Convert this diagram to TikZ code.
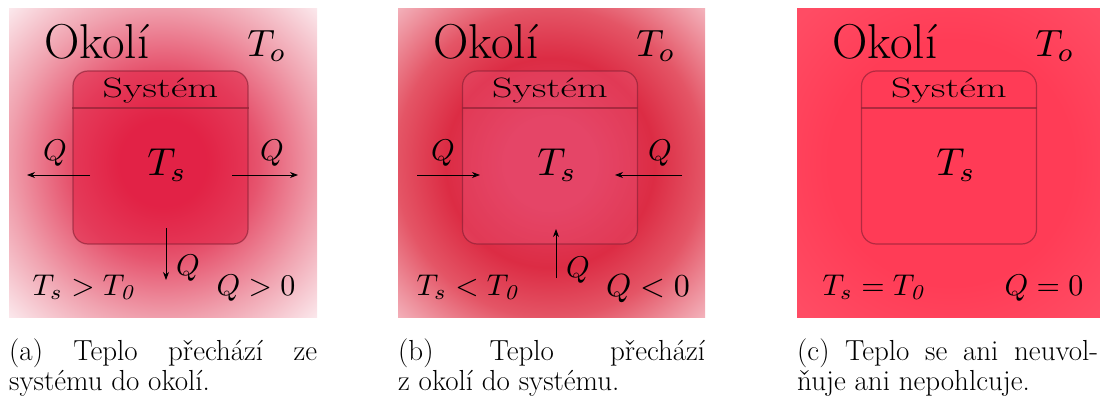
\documentclass[tikz,border=0pt]{standalone}
\usetikzlibrary{arrows.meta}
\definecolor{redA}{RGB}{224,36,70}
\definecolor{midA}{RGB}{230,84,110}
\definecolor{pinkA}{RGB}{240,162,175}
\definecolor{paleA}{RGB}{251,232,236}
\definecolor{inB}{RGB}{226,62,96}
\definecolor{ringB}{RGB}{220,44,68}
\definecolor{edgeB}{RGB}{228,85,102}
\definecolor{cornB}{RGB}{243,178,187}
\definecolor{inC}{RGB}{255,60,86}
\definecolor{outC}{RGB}{255,76,100}
\definecolor{boxline}{RGB}{130,30,50}
\definecolor{divline}{RGB}{150,35,55}
% radius 50bp corresponds to the full width (436pt) of the shaded square: 1bp = 8.72pt
\pgfdeclareradialshading{shA}{\pgfpoint{0bp}{0bp}}{color(0bp)=(redA); color(5bp)=(redA); color(11bp)=(midA); color(18bp)=(pinkA); color(25bp)=(paleA); color(50bp)=(paleA)}
\pgfdeclareradialshading{shB}{\pgfpoint{0bp}{0bp}}{color(0bp)=(inB); color(5bp)=(inB); color(12bp)=(ringB); color(17.7bp)=(edgeB); color(25bp)=(cornB); color(50bp)=(cornB)}
\pgfdeclareradialshading{shC}{\pgfpoint{0bp}{0bp}}{color(0bp)=(inC); color(14bp)=(inC); color(24bp)=(outC); color(50bp)=(outC)}
\newcommand{\mathbig}[2]{\scalebox{#1}{$#2$}}
\tikzset{
  sysbox/.style={draw=boxline, draw opacity=0.6, line width=1.2pt, rounded corners=15pt, minimum width=175pt, minimum height=173pt, inner sep=0pt},
  divider/.style={draw=divline, draw opacity=0.75, line width=2.6pt},
  flow/.style={line width=0.9pt, -{Stealth[length=8pt,width=6pt,inset=2.5pt]}},
  okoli/.style={inner sep=0pt, font=\fontsize{49}{49}\selectfont},
  bigmath/.style={inner sep=0pt},
  systxt/.style={inner sep=0pt, font=\fontsize{28}{28}\selectfont},
  qlbl/.style={inner sep=0pt},
  cond/.style={inner sep=0pt},
  capt/.style={inner sep=0pt, anchor=base west, font=\fontsize{29}{34}\selectfont}
}
\begin{document}
\begin{tikzpicture}[x=1pt,y=-1pt]
\useasboundingbox (0,0) rectangle (1100,398);
% ---------------- panel (a)
\begin{scope}
\clip (9,9) rectangle (317,317);
\shade[shading=shA] (-55,-55) rectangle (381,381);
\end{scope}
\node[sysbox, fill={rgb,255:red,228;green,34;blue,70}, fill opacity=0.5] (boxA) at (160.5,157.5) {};
\coordinate (divA) at (0,108);
\draw[divider] (boxA.west |- divA) -- (boxA.east |- divA);
\node[okoli] (okA) at (97,42) {Okolí};
\node[bigmath] (toA) at (267,46) {\mathbig{3.8}{T_o}};
\node[systxt] (syA) at (160.5,91) {\scalebox{1.43}[1]{Systém}};
\node[bigmath] (tsA) at (167,165) {\mathbig{3.9}{T_s}};
\coordinate (aL1) at (90,175); \coordinate (aL2) at (27,175);
\coordinate (aR1) at (232,175); \coordinate (aR2) at (298,175);
\coordinate (aD1) at (166,228); \coordinate (aD2) at (166,280);
\draw[flow] (aL1) -- (aL2);
\draw[flow] (aR1) -- (aR2);
\draw[flow] (aD1) -- (aD2);
\node[qlbl] (qAL) at (55,153) {\mathbig{3.0}{Q}};
\node[qlbl] (qAR) at (272,153) {\mathbig{3.0}{Q}};
\node[qlbl] (qAD) at (188,268) {\mathbig{3.0}{Q}};
\node[cond] (cA1) at (85,287) {\mathbig{3.0}{T_s>T_{\mathit{0}}}};
\node[cond] (cA2) at (256,288) {\mathbig{3.0}{Q>0}};
% ---------------- panel (b)
\begin{scope}
\clip (398,9) rectangle (705,317);
\shade[shading=shB] (332,-55) rectangle (768,381);
\end{scope}
\node[sysbox, fill={rgb,255:red,236;green,84;blue,118}, fill opacity=0.35] (boxB) at (550,157.5) {};
\coordinate (divB) at (0,108);
\draw[divider] (boxB.west |- divB) -- (boxB.east |- divB);
\node[okoli] (okB) at (486,42) {Okolí};
\node[bigmath] (toB) at (656,46) {\mathbig{3.8}{T_o}};
\node[systxt] (syB) at (550,91) {\scalebox{1.43}[1]{Systém}};
\node[bigmath] (tsB) at (557,165) {\mathbig{3.9}{T_s}};
\coordinate (bL1) at (417,175); \coordinate (bL2) at (480,175);
\coordinate (bR1) at (682,175); \coordinate (bR2) at (615,175);
\coordinate (bU1) at (556,278); \coordinate (bU2) at (556,229);
\draw[flow] (bL1) -- (bL2);
\draw[flow] (bR1) -- (bR2);
\draw[flow] (bU1) -- (bU2);
\node[qlbl] (qBL) at (443,153) {\mathbig{3.0}{Q}};
\node[qlbl] (qBR) at (660,153) {\mathbig{3.0}{Q}};
\node[qlbl] (qBU) at (578,270) {\mathbig{3.0}{Q}};
\node[cond] (cB1) at (469,287) {\mathbig{3.0}{T_s<T_{\mathit{0}}}};
\node[cond] (cB2) at (648,289) {\mathbig{3.2}{Q<0}};
% ---------------- panel (c)
\begin{scope}
\clip (797,9) rectangle (1100,317);
\shade[shading=shC] (733,-55) rectangle (1169,381);
\end{scope}
\node[sysbox, fill={rgb,255:red,255;green,58;blue,86}, fill opacity=0.4] (boxC) at (949,157.5) {};
\coordinate (divC) at (0,108);
\draw[divider] (boxC.west |- divC) -- (boxC.east |- divC);
\node[okoli] (okC) at (885,42) {Okolí};
\node[bigmath] (toC) at (1055,46) {\mathbig{3.8}{T_o}};
\node[systxt] (syC) at (949,91) {\scalebox{1.43}[1]{Systém}};
\node[bigmath] (tsC) at (956,165) {\mathbig{3.9}{T_s}};
\node[cond] (cC1) at (875,287) {\mathbig{3.0}{T_s=T_{\mathit{0}}}};
\node[cond] (cC2) at (1044,288) {\mathbig{3.0}{Q=0}};
% ---------------- captions
\node[capt] (capA1) at (9,360) {\makebox[308pt][s]{(a) Teplo přechází ze}};
\node[capt] (capA2) at (9,390) {systému do okolí.};
\node[capt] (capB1) at (398,360) {\makebox[307pt][s]{(b) Teplo přechází}};
\node[capt] (capB2) at (398,390) {z okolí do systému.};
\node[capt] (capC1) at (797,360) {\makebox[301pt][s]{(c) Teplo se ani neuvol-}};
\node[capt] (capC2) at (797,390) {ňuje ani nepohlcuje.};
\end{tikzpicture}
\end{document}
